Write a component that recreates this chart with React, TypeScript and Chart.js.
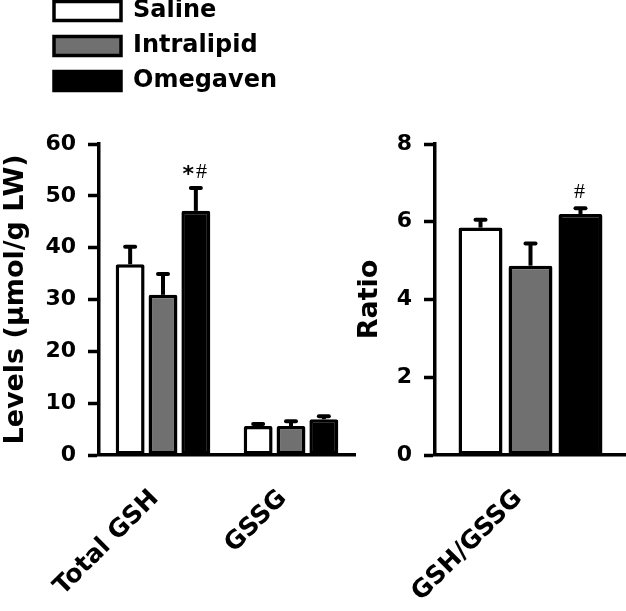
import React, { useEffect, useRef } from "react";
import { Chart, registerables } from "chart.js";

Chart.register(...registerables);

const seriesNames = ["Saline", "Intralipid", "Omegaven"];
const seriesFills = ["#ffffff", "#707070", "#000000"];

const levelCategories = ["Total GSH", "GSSG"];
const levelTicks = [0, 10, 20, 30, 40, 50, 60];
const salineLevels = [36.8, 5.6];
const intralipidLevels = [30.9, 5.6];
const omegavenLevels = [47.1, 6.9];
const salineLevelErr = [3.4, 0.4];
const intralipidLevelErr = [4.0, 0.9];
const omegavenLevelErr = [4.4, 0.6];
const salineLevelMarks = ["", ""];
const intralipidLevelMarks = ["", ""];
const omegavenLevelMarks = ["*#", ""];

const ratioCategories = ["GSH/GSSG"];
const ratioTicks = [0, 2, 4, 6, 8];
const salineRatio = [5.85];
const intralipidRatio = [4.87];
const omegavenRatio = [6.2];
const salineRatioErr = [0.2];
const intralipidRatioErr = [0.57];
const omegavenRatioErr = [0.15];
const salineRatioMarks = [""];
const intralipidRatioMarks = [""];
const omegavenRatioMarks = ["#"];

const FONT = "DejaVu Sans";

const errorBarPlugin = {
  id: "errorBars",
  afterDatasetsDraw(chart: any) {
    const { ctx } = chart;
    const yScale = chart.scales.y;
    chart.data.datasets.forEach((ds: any, di: number) => {
      const meta = chart.getDatasetMeta(di);
      meta.data.forEach((bar: any, i: number) => {
        const v = ds.data[i];
        const e = ds.errors ? ds.errors[i] : 0;
        const yTop = yScale.getPixelForValue(v);
        const yErr = yScale.getPixelForValue(v + e);
        ctx.save();
        ctx.strokeStyle = "#000";
        ctx.lineWidth = 4;
        ctx.beginPath();
        ctx.moveTo(bar.x, yTop);
        ctx.lineTo(bar.x, yErr);
        ctx.stroke();
        ctx.lineCap = "round";
        ctx.beginPath();
        ctx.moveTo(bar.x - 5, yErr);
        ctx.lineTo(bar.x + 5, yErr);
        ctx.stroke();
        const mark = ds.marks ? ds.marks[i] : "";
        if (mark) {
          const parts = mark.split("").map((c: string) => ({
            c,
            font: c === "*" ? `bold 22px ${FONT}` : `22px "Liberation Serif"`,
          }));
          let total = 0;
          parts.forEach((p: any) => {
            ctx.font = p.font;
            p.w = ctx.measureText(p.c).width;
            total += p.w + 2;
          });
          let x = bar.x - total / 2;
          ctx.fillStyle = "#000";
          ctx.textBaseline = "middle";
          ctx.textAlign = "left";
          parts.forEach((p: any) => {
            ctx.font = p.font;
            ctx.fillText(p.c, x, yErr - 16 + (p.c === "*" ? 3 : 0));
            x += p.w + 2;
          });
        }
        ctx.restore();
      });
    });
  },
};

function makeDatasets(values: number[][], errs: number[][], marks: string[][]) {
  return seriesNames.map((name, k) => ({
    label: name,
    data: values[k],
    errors: errs[k],
    marks: marks[k],
    backgroundColor: seriesFills[k],
    borderColor: "#000",
    borderWidth: 3.5,
    borderRadius: 2,
    borderSkipped: false,
  }));
}

function panelOptions(opts: any) {
  return {
    animation: false,
    responsive: false,
    maintainAspectRatio: false,
    layout: { padding: { top: 44, right: opts.padRight, left: 0, bottom: 0 } },
    datasets: {
      bar: { categoryPercentage: opts.cat, barPercentage: 0.88 },
    },
    plugins: { legend: { display: false }, tooltip: { enabled: false } },
    scales: {
      x: {
        type: "category",
        grid: { display: false },
        border: { display: true, color: "#000", width: 3.5 },
        ticks: {
          color: "#000",
          autoSkip: false,
          maxRotation: 45,
          minRotation: 45,
          padding: 21,
          labelOffset: opts.labelOffset,
          font: { family: FONT, weight: "bold", size: 25 },
        },
        afterFit: (s: any) => {
          s.height = 156;
        },
      },
      y: {
        min: opts.ticks[0],
        max: opts.ticks[opts.ticks.length - 1],
        afterBuildTicks: (s: any) => {
          s.ticks = opts.ticks.map((v: number) => ({ value: v }));
        },
        grid: {
          display: true,
          drawOnChartArea: false,
          drawTicks: true,
          tickLength: 11,
          tickWidth: 3.5,
          tickColor: "#000",
        },
        border: { display: true, color: "#000", width: 3.5 },
        ticks: {
          color: "#000",
          padding: 12,
          font: { family: FONT, weight: "bold", size: 22 },
        },
        title: {
          display: true,
          text: opts.title,
          color: "#000",
          padding: { top: opts.titlePad, bottom: 0 },
          font: { family: FONT, weight: "bold", size: 27 },
        },
        afterFit: (s: any) => {
          s.width = opts.axisWidth;
        },
      },
    },
  };
}

export default function App() {
  const legendRef = useRef<HTMLCanvasElement>(null);
  const leftRef = useRef<HTMLCanvasElement>(null);
  const rightRef = useRef<HTMLCanvasElement>(null);

  useEffect(() => {
    const legendChart = new Chart(legendRef.current as HTMLCanvasElement, {
      type: "bar",
      data: {
        labels: [],
        datasets: seriesNames.map((name, k) => ({
          label: name,
          data: [],
          backgroundColor: seriesFills[k],
          borderColor: "#000",
          borderWidth: 3.5,
        })),
      },
      options: {
        animation: false,
        responsive: false,
        layout: { padding: 0 },
        scales: { x: { display: false }, y: { display: false } },
        plugins: {
          tooltip: { enabled: false },
          legend: {
            position: "top",
            align: "start",
            labels: {
              color: "#000",
              boxWidth: 67,
              boxHeight: 19,
              padding: 11,
              font: { family: FONT, weight: "bold", size: 24 },
            },
          },
        },
      } as any,
    });

    const leftChart = new Chart(leftRef.current as HTMLCanvasElement, {
      type: "bar",
      data: {
        labels: levelCategories,
        datasets: makeDatasets(
          [salineLevels, intralipidLevels, omegavenLevels],
          [salineLevelErr, intralipidLevelErr, omegavenLevelErr],
          [salineLevelMarks, intralipidLevelMarks, omegavenLevelMarks]
        ) as any,
      },
      options: panelOptions({
        padRight: 5,
        cat: 0.77,
        labelOffset: -8,
        ticks: levelTicks,
        title: "Levels (μmol/g LW)",
        titlePad: 0,
        axisWidth: 99,
      }) as any,
      plugins: [errorBarPlugin],
    });

    const rightChart = new Chart(rightRef.current as HTMLCanvasElement, {
      type: "bar",
      data: {
        labels: ratioCategories,
        datasets: makeDatasets(
          [salineRatio, intralipidRatio, omegavenRatio],
          [salineRatioErr, intralipidRatioErr, omegavenRatioErr],
          [salineRatioMarks, intralipidRatioMarks, omegavenRatioMarks]
        ) as any,
      },
      options: panelOptions({
        padRight: 0,
        cat: 0.785,
        labelOffset: -12,
        ticks: ratioTicks,
        title: "Ratio",
        titlePad: 4,
        axisWidth: 85,
      }) as any,
      plugins: [errorBarPlugin],
    });

    return () => {
      legendChart.destroy();
      leftChart.destroy();
      rightChart.destroy();
    };
  }, []);

  return (
    <div
      style={{
        position: "absolute",
        left: 0,
        top: 0,
        width: 626,
        height: 611,
        background: "#fff",
        overflow: "hidden",
      }}
    >
      <canvas ref={leftRef} width={360} height={511} style={{ position: "absolute", left: 0, top: 100 }} />
      <canvas ref={rightRef} width={276} height={511} style={{ position: "absolute", left: 350, top: 100 }} />
      <canvas ref={legendRef} width={270} height={240} style={{ position: "absolute", left: 43, top: -12 }} />
    </div>
  );
}
